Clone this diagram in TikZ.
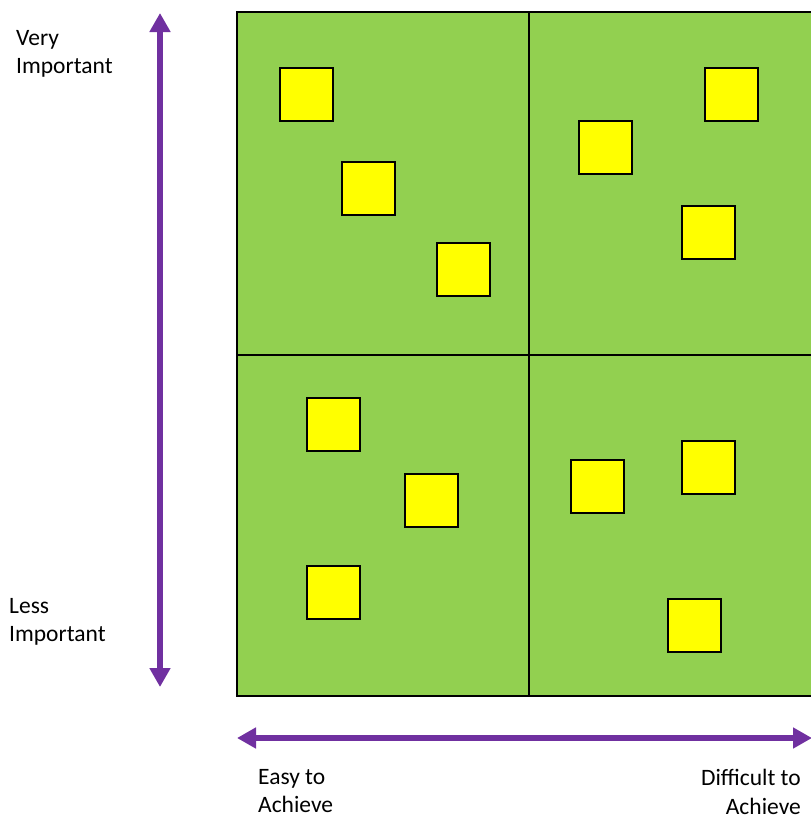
\documentclass[tikz,border=0pt]{standalone}
\usepackage{fontspec}
\setmainfont{Carlito}
\usetikzlibrary{arrows.meta}
\definecolor{quadgreen}{HTML}{92D050}
\definecolor{notey}{HTML}{FFFF00}
\definecolor{axispurple}{HTML}{7030A0}
\tikzset{
  quad/.style={draw=black, line width=2pt, fill=quadgreen, rectangle, inner sep=0pt},
  note/.style={draw=black, line width=2pt, fill=notey, rectangle, inner sep=0pt, minimum width=53pt, minimum height=53pt},
  axis/.style={draw=axispurple, line width=6pt, {Triangle[width=20pt,length=19pt,fill=axispurple]}-{Triangle[width=20pt,length=19pt,fill=axispurple]}},
  lbl/.style={inner sep=0pt, font={\fontsize{23.5}{28.5}\selectfont}}
}
\begin{document}
\begin{tikzpicture}[x=1pt,y=-1pt]
\useasboundingbox (0,0) rectangle (811,820);
\clip (0,0) rectangle (811,820);
% quadrants
\node[quad, minimum width=292pt, minimum height=343pt] (q11) at (383,183.5) {};
\node[quad, minimum width=292pt, minimum height=343pt] (q12) at (675,183.5) {};
\node[quad, minimum width=292pt, minimum height=341pt] (q21) at (383,525.5) {};
\node[quad, minimum width=292pt, minimum height=341pt] (q22) at (675,525.5) {};
% notes top-left
\node[note] (n1) at (306,94.5) {};
\node[note] (n2) at (368.5,188.5) {};
\node[note] (n3) at (463.5,269) {};
% notes top-right
\node[note] (n4) at (731.5,94.5) {};
\node[note] (n5) at (605,147.5) {};
\node[note] (n6) at (708,232) {};
% notes bottom-left
\node[note] (n7) at (333,424.5) {};
\node[note] (n8) at (431.5,500) {};
\node[note] (n9) at (333,592.5) {};
% notes bottom-right
\node[note] (n10) at (597.5,486.5) {};
\node[note] (n11) at (708,467.5) {};
\node[note] (n12) at (694.5,625.5) {};
% axes
\coordinate (vt) at (160,13);
\coordinate (vb) at (160,687);
\draw[axis] (vt) -- (vb);
\coordinate (hl) at (237,738);
\coordinate (hr) at (812,738);
\draw[axis] (hl) -- (hr);
% labels
\node[lbl, anchor=north west, align=left] (vi) at (16,30) {Very\\Important};
\node[lbl, anchor=north west, align=left] (li) at (9,598) {Less\\Important};
\node[lbl, anchor=north west, align=left] (ea) at (258,769) {Easy to\\Achieve};
\node[lbl, anchor=north east, align=right] (da) at (801,769) {Difficult to\\Achieve};
\end{tikzpicture}
\end{document}
